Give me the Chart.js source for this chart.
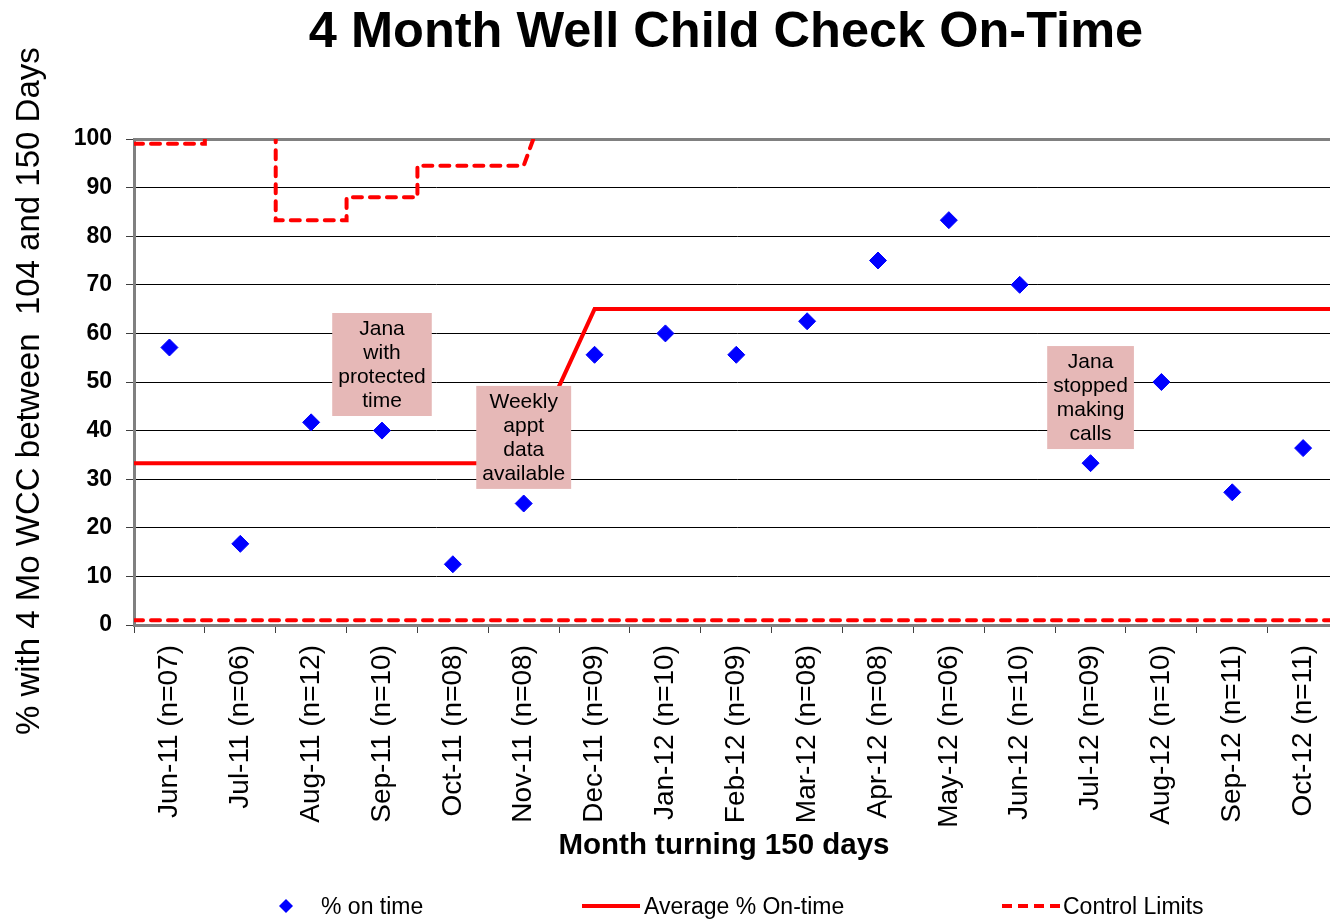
<!DOCTYPE html>
<html>
<head>
<meta charset="utf-8">
<title>4 Month Well Child Check On-Time</title>
<script src="https://cdn.jsdelivr.net/npm/chart.js@4.4.1/dist/chart.umd.min.js"></script>
<style>
  html, body { margin: 0; padding: 0; background: #fff; overflow: hidden; }
  #wrap { position: relative; width: 1330px; height: 920px; overflow: hidden; font-family: "Liberation Sans", Arial, sans-serif; }
  #box { position: absolute; left: 0; top: 0; width: 1349px; height: 920px; }
  #chart { display: block; width: 1349px; height: 920px; }
  #title { position: absolute; left: 0; top: 5px; width: 1452px; text-align: center; white-space: nowrap;
           font-weight: bold; font-size: 50.5px; line-height: 50px; color: #000; }
  .leg { position: absolute; top: 893px; font-size: 23px; line-height: 26px; color: #000; white-space: nowrap; }
  .mark { position: absolute; }
</style>
</head>
<body>
<div id="wrap">
  <!-- the plot runs past the right edge of the picture, as in the original -->
  <div id="box"><canvas id="chart" width="1349" height="920"></canvas></div>
  <div id="title">4 Month Well Child Check On-Time</div>

  <svg class="mark" style="left:279px; top:899px" width="14" height="14"><polygon points="7,0 14,7 7,14 0,7" fill="#0000FF"/></svg>
  <div class="leg" style="left:321px">% on time</div>

  <svg class="mark" style="left:582px; top:904px" width="58" height="4"><rect x="0" y="0" width="58" height="4" fill="#FF0000"/></svg>
  <div class="leg" style="left:644px">Average % On-time</div>

  <svg class="mark" style="left:1002px; top:904px" width="58" height="4"><line x1="0" y1="2" x2="58" y2="2" stroke="#FF0000" stroke-width="4" stroke-dasharray="10,6"/></svg>
  <div class="leg" style="left:1063px">Control Limits</div>
</div>

<script>
// months turning 150 days, with number of children
const months = ['Jun-11 (n=07)', 'Jul-11 (n=06)', 'Aug-11 (n=12)', 'Sep-11 (n=10)', 'Oct-11 (n=08)', 'Nov-11 (n=08)',
                'Dec-11 (n=09)', 'Jan-12 (n=10)', 'Feb-12 (n=09)', 'Mar-12 (n=08)', 'Apr-12 (n=08)', 'May-12 (n=06)',
                'Jun-12 (n=10)', 'Jul-12 (n=09)', 'Aug-12 (n=10)', 'Sep-12 (n=11)', 'Oct-12 (n=11)'];

const pctOnTime = [57.1, 16.7, 41.7, 40.0, 12.5, 25.0, 55.6, 60.0, 55.6, 62.5, 75.0, 83.3, 70.0, 33.3, 50.0, 27.3, 36.4];
const avgOnTime = [33.3, 33.3, 33.3, 33.3, 33.3, 33.3, 65, 65, 65, 65, 65, 65, 65, 65, 65, 65, 65];
const upperLimit = [99, 110, 83.3, 88, 94.5, 94.5, 135, 110, 112, 113, 113, 118, 110, 112, 110, 108, 108];
const lowerLimit = [1, 1, 1, 1, 1, 1, 1, 1, 1, 1, 1, 1, 1, 1, 1, 1, 1];
const baselineMonths = 6;   // first phase is drawn as steps

const yTicks = [0, 10, 20, 30, 40, 50, 60, 70, 80, 90, 100];

// call-out boxes: text, month index and value at the box centre
const noteText = [['Jana', 'with', 'protected', 'time'],
                  ['Weekly', 'appt', 'data', 'available'],
                  ['Jana', 'stopped', 'making', 'calls']];
const noteMonth = [3, 5, 13];
const noteValue = [53.6, 38.6, 46.8];

const last = months.length - 1;

// average line runs from edge to edge of the plot
function avgPoints(vals) {
  const pts = [{ x: -0.5, y: vals[0] }];
  vals.forEach((v, i) => pts.push({ x: i, y: v }));
  pts.push({ x: last + 0.5, y: vals[last] });
  return pts;
}

// control limit: steps at month borders during the baseline, then point to point
function limitPoints(vals) {
  const pts = [];
  vals.forEach((v, i) => {
    if (i < baselineMonths) {
      pts.push({ x: i - 0.5, y: v });
      pts.push({ x: i < baselineMonths - 1 ? i + 0.5 : i, y: v });
    } else {
      pts.push({ x: i, y: v });
    }
  });
  pts.push({ x: last + 0.5, y: vals[last] });
  return pts;
}

const notesPlugin = {
  id: 'notes',
  afterDatasetsDraw(chart) {
    const { ctx, scales: { x, y } } = chart;
    ctx.save();
    ctx.font = '21px "Liberation Sans", Arial, sans-serif';
    ctx.textAlign = 'center';
    ctx.textBaseline = 'middle';
    noteText.forEach((lines, k) => {
      const cx = x.getPixelForValue(noteMonth[k]);
      const cy = y.getPixelForValue(noteValue[k]);
      const w = Math.max(...lines.map(t => ctx.measureText(t).width)) + 12;
      const lh = 24;
      const h = lines.length * lh + 7;
      ctx.fillStyle = '#E6B8B7';
      ctx.fillRect(cx - w / 2, cy - h / 2, w, h);
      ctx.fillStyle = '#000';
      lines.forEach((t, j) => ctx.fillText(t, cx, cy - h / 2 + 4 + lh * (j + 0.5)));
    });
    ctx.restore();
  }
};

Chart.defaults.font.family = '"Liberation Sans", Arial, sans-serif';
Chart.defaults.color = '#000';

const ctx = document.getElementById('chart').getContext('2d');
const chart = new Chart(ctx, {
  type: 'line',
  data: {
    labels: months,
    datasets: [
      {
        label: '% on time',
        data: pctOnTime,
        xAxisID: 'x',
        showLine: false,
        pointStyle: 'rectRot',
        pointRadius: 8.5,
        pointBackgroundColor: '#0000FF',
        pointBorderColor: '#0000FF',
        pointBorderWidth: 1
      },
      {
        label: 'Average % On-time',
        data: avgPoints(avgOnTime),
        xAxisID: 'x2',
        borderColor: '#FF0000',
        borderWidth: 4,
        pointRadius: 0,
        clip: 0
      },
      {
        label: 'Control Limits',
        data: limitPoints(upperLimit),
        xAxisID: 'x2',
        borderColor: '#FF0000',
        borderWidth: 4,
        borderDash: [9, 8],
        borderCapStyle: 'round',
        pointRadius: 0,
        clip: 0
      },
      {
        label: 'Lower Limit',
        data: limitPoints(lowerLimit),
        xAxisID: 'x2',
        borderColor: '#FF0000',
        borderWidth: 4,
        borderDash: [9, 8],
        borderCapStyle: 'round',
        pointRadius: 0,
        clip: 0
      }
    ]
  },
  options: {
    responsive: false,
    animation: false,
    events: [],
    layout: { padding: { top: 139, right: 0, bottom: 50, left: 0 } },
    plugins: {
      legend: { display: false },
      tooltip: { enabled: false },
      title: { display: false }
    },
    scales: {
      x: {
        type: 'category',
        offset: true,
        grid: { offset: true, drawOnChartArea: false, tickLength: 8, tickColor: '#404040', tickWidth: 1 },
        border: { color: '#808080', width: 3 },
        ticks: {
          autoSkip: false,
          minRotation: 90,
          maxRotation: 90,
          padding: 12,
          font: { size: 28 },
          color: '#000'
        },
        title: {
          display: true,
          text: 'Month turning 150 days   ',
          font: { size: 29.5, weight: 'bold' },
          padding: { top: 0, bottom: 6 }
        },
        afterFit(scale) { scale.height = 245; }
      },
      x2: {
        type: 'linear',
        display: false,
        min: -0.5,
        max: last + 0.5
      },
      y: {
        min: 0,
        max: 100,
        afterBuildTicks(scale) { scale.ticks = yTicks.map(v => ({ value: v })); },
        grid: {
          color: c => c.tick && c.tick.value === 100 ? '#808080' : '#000',
          lineWidth: c => c.tick && c.tick.value === 100 ? 3 : 1,
          tickLength: 8,
          tickColor: '#404040',
          tickWidth: 1
        },
        border: { color: '#808080', width: 3 },
        ticks: {
          padding: 14,
          font: { size: 23, weight: 'bold' },
          color: '#000'
        },
        title: {
          display: true,
          text: '% with 4 Mo WCC between  104 and 150 Days  ',
          font: { size: 33 },
          padding: { top: 10, bottom: 0 }
        },
        afterFit(scale) { scale.width = 134; }
      }
    }
  },
  plugins: [notesPlugin]
});
</script>
</body>
</html>
